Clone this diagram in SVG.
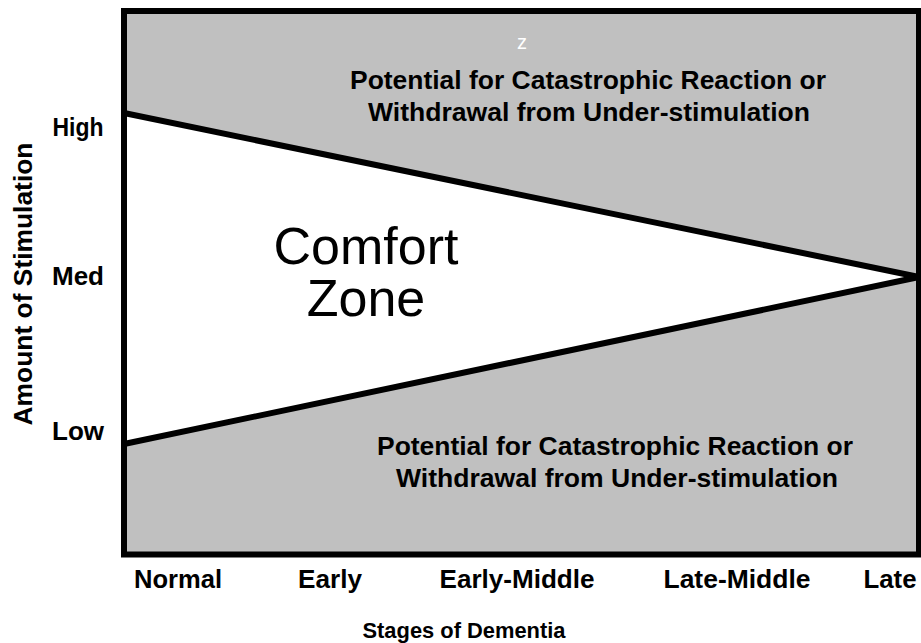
<svg xmlns="http://www.w3.org/2000/svg" width="921" height="643" viewBox="0 0 921 643">
<style>
.lbl{font-family:"Liberation Sans",Arial,sans-serif;font-weight:bold;fill:#000}
.tick{font-size:25px;text-anchor:middle}
.region{font-size:25px;text-anchor:middle}
.edge{stroke:#000;stroke-width:6;fill:none}
</style>
<rect width="921" height="643" fill="#fff"/>
<g id="frame">
<rect x="124" y="11" width="795" height="543.5" fill="#c0c0c0"/>
</g>
<g id="comfort-zone">
<polygon points="124,113 919,277 124,444" fill="#fff"/>
<text x="366" y="264" font-family="Liberation Sans, Arial, sans-serif" font-size="52" text-anchor="middle">Comfort</text>
<text x="366" y="316" font-family="Liberation Sans, Arial, sans-serif" font-size="52" text-anchor="middle">Zone</text>
</g>
<g id="connectors">
<line class="edge" x1="124" y1="113" x2="919" y2="277"/>
<line class="edge" x1="124" y1="444" x2="919" y2="277"/>
<rect class="edge" x="124" y="11" width="795" height="543.5"/>
</g>
<g id="upper-region">
<text x="522" y="49" font-family="Liberation Sans, Arial, sans-serif" font-size="20" fill="#fff" text-anchor="middle">z</text>
<text class="lbl region" x="588" y="89" textLength="476" lengthAdjust="spacingAndGlyphs">Potential for Catastrophic Reaction or</text>
<text class="lbl region" x="589" y="121" textLength="442" lengthAdjust="spacingAndGlyphs">Withdrawal from Under-stimulation</text>
</g>
<g id="lower-region">
<text class="lbl region" x="615" y="455" textLength="476" lengthAdjust="spacingAndGlyphs">Potential for Catastrophic Reaction or</text>
<text class="lbl region" x="617" y="487" textLength="442" lengthAdjust="spacingAndGlyphs">Withdrawal from Under-stimulation</text>
</g>
<g id="y-axis">
<text class="lbl tick" x="78" y="136" textLength="51" lengthAdjust="spacingAndGlyphs">High</text>
<text class="lbl tick" x="78" y="285" textLength="52" lengthAdjust="spacingAndGlyphs">Med</text>
<text class="lbl tick" x="78" y="440" textLength="52" lengthAdjust="spacingAndGlyphs">Low</text>
<text class="lbl" font-size="25" text-anchor="middle" transform="translate(32,284) rotate(-90)" textLength="283" lengthAdjust="spacingAndGlyphs">Amount of Stimulation</text>
</g>
<g id="x-axis">
<text class="lbl tick" x="178" y="588" textLength="88" lengthAdjust="spacingAndGlyphs">Normal</text>
<text class="lbl tick" x="330" y="588" textLength="64" lengthAdjust="spacingAndGlyphs">Early</text>
<text class="lbl tick" x="517" y="588" textLength="155" lengthAdjust="spacingAndGlyphs">Early-Middle</text>
<text class="lbl tick" x="737" y="588" textLength="147" lengthAdjust="spacingAndGlyphs">Late-Middle</text>
<text class="lbl tick" x="890" y="588" textLength="53" lengthAdjust="spacingAndGlyphs">Late</text>
<text class="lbl" font-size="22" text-anchor="middle" x="464" y="638" textLength="203" lengthAdjust="spacingAndGlyphs">Stages of Dementia</text>
</g>
</svg>
